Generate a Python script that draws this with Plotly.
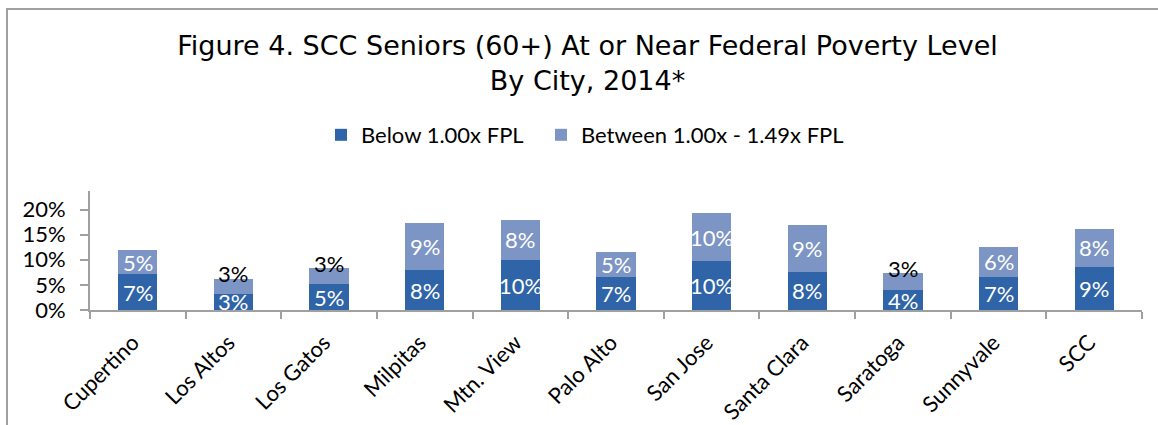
import plotly.graph_objects as go

cities = ["Cupertino", "Los Altos", "Los Gatos", "Milpitas", "Mtn. View", "Palo Alto",
          "San Jose", "Santa Clara", "Saratoga", "Sunnyvale", "SCC"]
below_fpl = [0.071, 0.032, 0.051, 0.079, 0.099, 0.066, 0.097, 0.076, 0.039, 0.066, 0.086]
between_fpl = [0.048, 0.029, 0.032, 0.094, 0.081, 0.050, 0.096, 0.093, 0.034, 0.060, 0.076]
series_names = ["Below 1.00x FPL", "Between 1.00x - 1.49x FPL"]
y_ticks = [0, 0.05, 0.10, 0.15, 0.20]

DARK = "#2F64A8"
LIGHT = "#7C95C4"
FONT = "Lato"

W, H = 1158, 425
ML, MR, MT, MB = 90, 16, 191, 115

fig = go.Figure()
fig.add_trace(go.Bar(x=cities, y=below_fpl, name=series_names[0], marker_color=DARK,
                     marker_line_width=0, width=0.41, legend="legend"))
fig.add_trace(go.Bar(x=cities, y=between_fpl, name=series_names[1], marker_color=LIGHT,
                     marker_line_width=0, width=0.41, legend="legend2"))

def pct(v):
    return f"{int(v * 100 + 0.5)}%"

ann = []
for c, b, t in zip(cities, below_fpl, between_fpl):
    ann.append(dict(x=c, y=b / 2, text=pct(b), showarrow=False, xref="x", yref="y",
                    font=dict(family=FONT, size=22, color="white"), yanchor="middle"))
    small = t < 0.035
    ann.append(dict(x=c, y=b + t / 2, text=pct(t), showarrow=False, xref="x", yref="y",
                    font=dict(family=FONT, size=22, color="black" if small else "white"),
                    yanchor="middle", yshift=13 if small else 0))

pw = W - ML - MR
ph = H - MT - MB
def px_x(p):
    return (p - ML) / pw
def px_y(p):
    return (H - MB - p) / ph

shapes = [dict(type="rect", xref="paper", yref="paper",
               x0=px_x(7), x1=px_x(W + 20), y0=px_y(H + 20), y1=px_y(9),
               line=dict(color="#A0A0A0", width=2), fillcolor="rgba(0,0,0,0)", layer="below")]

legend_common = dict(orientation="h", xref="container", yref="container",
                     xanchor="left", yanchor="middle",
                     font=dict(family=FONT, size=22, color="black"),
                     itemclick=False, bgcolor="rgba(0,0,0,0)")

fig.update_layout(
    width=W, height=H,
    margin=dict(l=ML, r=MR, t=MT, b=MB, pad=0, autoexpand=False),
    paper_bgcolor="white", plot_bgcolor="white",
    barmode="stack",
    title=dict(text="Figure 4. SCC Seniors (60+) At or Near Federal Poverty Level<br>By City, 2014*",
               x=587.5 / W, xanchor="center", xref="container",
               y=1 - 55 / H, yanchor="middle", yref="container",
               font=dict(family="DejaVu Sans", size=27, color="black")),
    legend=dict(x=321 / W, y=1 - 135 / H, **legend_common),
    legend2=dict(x=541 / W, y=1 - 135 / H, **legend_common),
    showlegend=True,
    annotations=ann,
    shapes=shapes,
    xaxis=dict(showgrid=False, showline=True, linecolor="#A0A0A0", linewidth=2,
               automargin=False,
               ticks="outside", tickson="boundaries", ticklen=7, tickcolor="#A0A0A0", tickwidth=2,
               tickangle=-45, ticklabelstandoff=9, ticklabelshift=-5,
               tickfont=dict(family=FONT, size=22, color="black")),
    yaxis=dict(range=[0, 0.237], tickvals=y_ticks, tickformat=".0%", showgrid=False,
               automargin=False,
               showline=True, linecolor="#A0A0A0", linewidth=2, zeroline=False,
               ticks="outside", ticklen=8, tickcolor="#A0A0A0", tickwidth=2,
               ticklabelstandoff=10,
               tickfont=dict(family=FONT, size=22, color="black")),
)

fig.write_html("out.html", config={"displayModeBar": False},
               post_script="document.body.style.margin='0';document.body.style.overflow='hidden';")
